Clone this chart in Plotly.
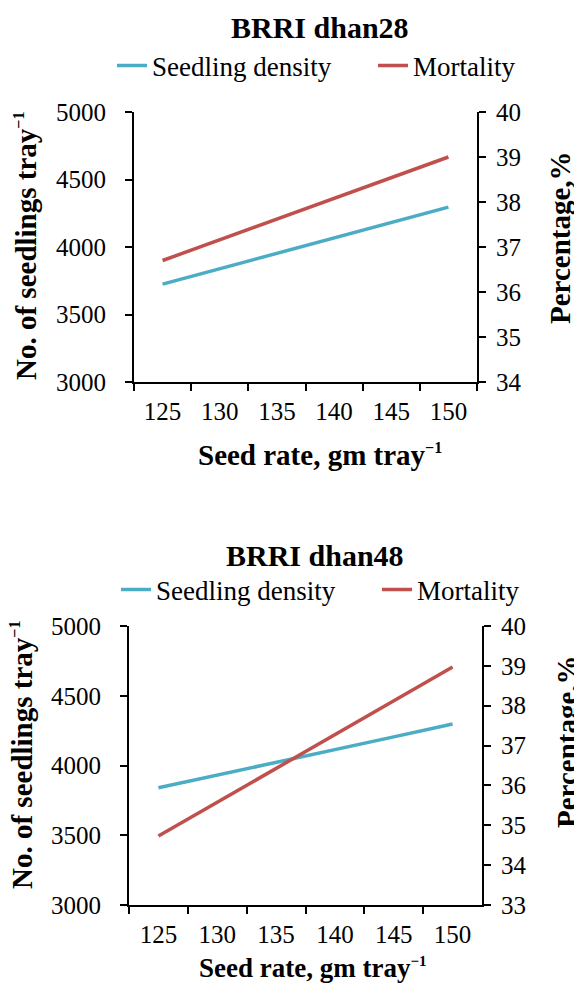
import plotly.graph_objects as go

# ---------------- data ----------------
seed_rates = ["125", "130", "135", "140", "145", "150"]

# BRRI dhan28
density_28 = [3725, 3840, 3955, 4065, 4180, 4295]
mortality_28 = [36.7, 37.16, 37.62, 38.08, 38.54, 39.0]

# BRRI dhan48
density_48 = [3840, 3930, 4022, 4114, 4205, 4297]
mortality_48 = [34.73, 35.58, 36.42, 37.27, 38.12, 38.97]

titles = ["BRRI dhan28", "BRRI dhan48"]
series_names = ["Seedling density", "Mortality"]

# ---------------- style ----------------
W, H = 574, 986
FONT = "Liberation Serif, Times New Roman, serif"
BLUE = "#4BACC6"
RED = "#C0504D"
TICK_FS = 25
TITLE_FS = 30
AXT_FS = 29
LEG_FS = 27


def px_x(p):
    return p / W


def px_y(p):
    return 1 - p / H


fig = go.Figure()

# top chart traces
fig.add_trace(go.Scatter(x=seed_rates, y=density_28, name=series_names[0], mode="lines",
                         line=dict(color=BLUE, width=3.5), xaxis="x", yaxis="y", legend="legend"))
fig.add_trace(go.Scatter(x=seed_rates, y=mortality_28, name=series_names[1], mode="lines",
                         line=dict(color=RED, width=3.5), xaxis="x", yaxis="y2", legend="legend2"))
# bottom chart traces
fig.add_trace(go.Scatter(x=seed_rates, y=density_48, name=series_names[0], mode="lines",
                         line=dict(color=BLUE, width=3.5), xaxis="x2", yaxis="y3", legend="legend3"))
fig.add_trace(go.Scatter(x=seed_rates, y=mortality_48, name=series_names[1], mode="lines",
                         line=dict(color=RED, width=3.5), xaxis="x2", yaxis="y4", legend="legend4"))

axis_common = dict(showline=True, linecolor="black", linewidth=2, ticks="outside",
                   ticklen=7, tickwidth=2, tickcolor="black", showgrid=False, zeroline=False,
                   automargin=False,
                   tickfont=dict(family=FONT, size=TICK_FS, color="black"))

xcat = dict(type="category", categoryorder="array", categoryarray=seed_rates,
            tickson="boundaries", range=[-0.5, 5.5], ticklabelstandoff=6, **axis_common)
yleft = dict(ticklabelstandoff=14, **axis_common)
yright = dict(ticklabelstandoff=5, **axis_common)

# geometry (pixels)
top_x = [px_x(134), px_x(477)]
top_y = [px_y(382), px_y(112)]
bot_x = [px_x(129), px_x(482)]
bot_y = [px_y(905), px_y(626)]


def leg(xp, yp):
    return dict(x=px_x(xp), xanchor="left", y=px_y(yp), yanchor="middle",
                font=dict(family=FONT, size=LEG_FS, color="black"),
                bgcolor="rgba(0,0,0,0)", borderwidth=0)


fig.update_layout(
    width=W, height=H,
    margin=dict(l=0, r=0, t=0, b=0, pad=0, autoexpand=False),
    paper_bgcolor="white", plot_bgcolor="white",
    font=dict(family=FONT, color="black"),
    showlegend=True,
    xaxis=dict(domain=top_x, anchor="y", **xcat),
    yaxis=dict(domain=top_y, anchor="x", range=[3000, 5000], dtick=500, **yleft),
    yaxis2=dict(overlaying="y", side="right", anchor="x", range=[34, 40], dtick=1, **yright),
    xaxis2=dict(domain=bot_x, anchor="y3", **xcat),
    yaxis3=dict(domain=bot_y, anchor="x2", range=[3000, 5000], dtick=500, **yleft),
    yaxis4=dict(overlaying="y3", side="right", anchor="x2", range=[33, 40], dtick=1, **yright),
    legend=leg(112, 66),
    legend2=leg(373, 66),
    legend3=leg(116, 590),
    legend4=leg(377, 590),
)


def bold(s):
    return "<b>" + s + "</b>"


def tray_sup(size):
    return "<sup><span style='font-size:%dpx'>−1</span></sup>" % size


ann = []
# chart titles
ann.append(dict(text=bold(titles[0]), x=px_x(320), y=px_y(28), font=dict(size=TITLE_FS)))
ann.append(dict(text=bold(titles[1]), x=px_x(315), y=px_y(555), font=dict(size=TITLE_FS)))
# x-axis titles
ann.append(dict(text=bold("Seed rate, gm tray" + tray_sup(16)), x=px_x(320), y=px_y(455),
                font=dict(size=AXT_FS)))
ann.append(dict(text=bold("Seed rate, gm tray" + tray_sup(15)), x=px_x(313), y=px_y(968),
                font=dict(size=27)))
# left y titles
yt = bold("No. of seedlings tray" + tray_sup(16))
ann.append(dict(text=yt, x=px_x(26), y=px_y(246), textangle=-90, font=dict(size=AXT_FS)))
ann.append(dict(text=yt, x=px_x(22), y=px_y(755), textangle=-90, font=dict(size=AXT_FS)))
# right y titles
rt = bold("Percentage,%")
ann.append(dict(text=rt, x=px_x(560), y=px_y(238), textangle=-90, font=dict(size=AXT_FS)))
ann.append(dict(text=rt, x=px_x(567), y=px_y(742), textangle=-90, font=dict(size=AXT_FS)))

for a in ann:
    a.update(xref="paper", yref="paper", showarrow=False, xanchor="center", yanchor="middle")
    a["font"].update(family=FONT, color="black")
fig.update_layout(annotations=ann)

# remove the browser's default 8px body margin so the figure sits at (0, 0)
fig.write_html("out.html", config={"displayModeBar": False},
               post_script="document.body.style.margin='0';document.body.style.overflow='hidden';")
